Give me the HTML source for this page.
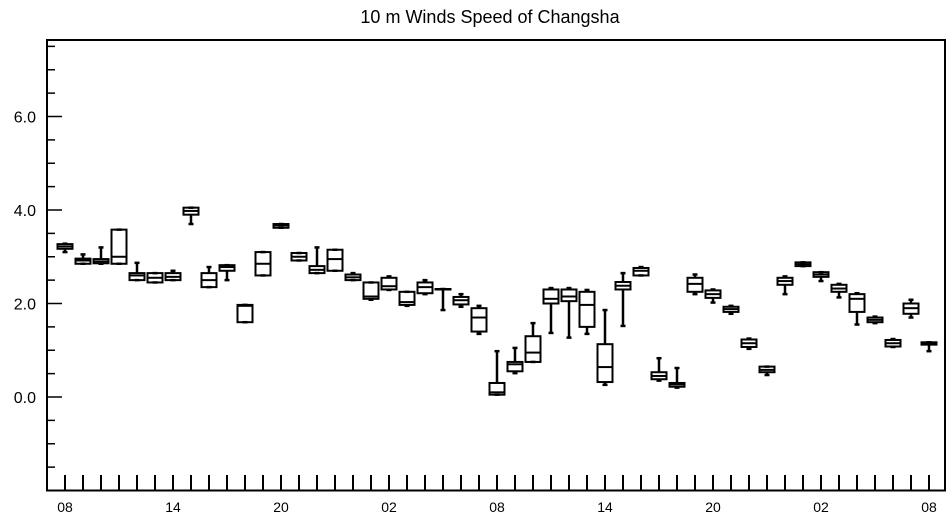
<!DOCTYPE html>
<html><head><meta charset="utf-8"><style>
body{margin:0;background:#fff;}
svg{display:block;font-family:"Liberation Sans",sans-serif;}
</style></head><body>
<svg id="chart" width="952" height="520" viewBox="0 0 952 520">
<text x="490" y="23" text-anchor="middle" font-size="18">10 m Winds Speed of Changsha</text>
<g id="marks"></g>
<rect x="47" y="40" width="898" height="450.5" fill="none" stroke="#000" stroke-width="2"/>
</svg>
<script>
const xLabels=["08","14","20","02","08","14","20","02","08"];
const yTicks=[0,2,4,6];
const yTickLabels=["0.0","2.0","4.0","6.0"];
const lowW=[3.10,2.85,2.85,2.85,2.5,2.45,2.5,3.7,2.35,2.5,1.6,2.6,3.62,2.92,2.65,2.7,2.5,2.08,2.29,1.95,2.2,1.86,1.93,1.35,0.05,0.51,0.75,1.37,1.27,1.35,0.26,1.52,2.6,0.35,0.2,2.2,2.02,1.78,1.03,0.47,2.2,2.8,2.48,2.13,1.55,1.58,1.07,1.7,0.98];
const q1=[3.17,2.85,2.86,2.85,2.5,2.45,2.5,3.9,2.35,2.7,1.6,2.6,3.62,2.92,2.65,2.7,2.5,2.1,2.3,1.97,2.22,2.3,1.98,1.4,0.05,0.55,0.75,2.0,2.05,1.5,0.32,2.3,2.6,0.38,0.22,2.25,2.12,1.82,1.07,0.53,2.4,2.8,2.57,2.25,1.82,1.6,1.08,1.78,1.12];
const med=[3.22,2.92,2.9,3.0,2.6,2.55,2.57,3.98,2.5,2.78,1.95,2.85,3.67,3.0,2.72,2.95,2.56,2.15,2.37,2.03,2.35,2.31,2.07,1.7,0.1,0.7,0.95,2.1,2.15,1.97,0.64,2.38,2.7,0.45,0.27,2.42,2.2,1.88,1.15,0.58,2.48,2.84,2.62,2.32,2.1,1.65,1.15,1.9,1.15];
const q3=[3.27,2.96,2.95,3.58,2.65,2.65,2.65,4.05,2.65,2.82,1.97,3.1,3.7,3.08,2.8,3.15,2.62,2.45,2.55,2.25,2.45,2.31,2.14,1.9,0.3,0.75,1.3,2.3,2.3,2.25,1.13,2.46,2.76,0.53,0.3,2.55,2.28,1.93,1.23,0.65,2.55,2.88,2.67,2.4,2.2,1.7,1.22,2.0,1.17];
const highW=[3.28,3.05,3.2,3.58,2.87,2.65,2.7,4.05,2.78,2.82,1.97,3.1,3.7,3.08,3.2,3.15,2.65,2.45,2.58,2.25,2.5,2.31,2.2,1.95,0.98,1.05,1.58,2.33,2.33,2.29,1.86,2.65,2.78,0.83,0.62,2.62,2.3,1.95,1.25,0.65,2.58,2.88,2.67,2.42,2.22,1.72,1.24,2.08,1.17];
const X0=65,DX=18,Y0=397,KY=46.75;
const xs=i=>X0+DX*i, ys=v=>Y0-KY*v;
const g=document.getElementById('marks');
const NS="http://www.w3.org/2000/svg";
function mk(t,a){const e=document.createElementNS(NS,t);for(const k in a)e.setAttribute(k,a[k]);g.appendChild(e);return e;}
// y ticks
for(let v=-1.5;v<=7.5+1e-9;v+=0.5){
 const major=Math.abs(v/2-Math.round(v/2))<1e-9;
 const e=mk('line',{x1:47,x2:47+(major?15:8),y1:ys(v),y2:ys(v),stroke:'#000','stroke-width':1.5});
 
 
}
yTicks.forEach((v,i)=>{
 const t=mk('text',{x:36,y:ys(v)+6,'text-anchor':'end','font-size':16});
 t.textContent=yTickLabels[i];
 
 
});
// x ticks
for(let i=0;i<q1.length;i++){
 const e=mk('line',{x1:xs(i),x2:xs(i),y1:490,y2:475,stroke:'#000','stroke-width':2});
 
 
}
xLabels.forEach((l,k)=>{
 const t=mk('text',{x:xs(k*6),y:512,'text-anchor':'middle','font-size':14});
 t.textContent=l;
 
 
});
// boxes
for(let i=0;i<q1.length;i++){
 const x=xs(i),w=15;
 const gb=document.createElementNS(NS,'g');g.appendChild(gb);
 
 
 const add=(t,a)=>{const e=document.createElementNS(NS,t);for(const k in a)e.setAttribute(k,a[k]);gb.appendChild(e);return e;};
 add('line',{x1:x,x2:x,y1:ys(highW[i]),y2:ys(q3[i]),stroke:'#000','stroke-width':2.5});
 add('line',{x1:x,x2:x,y1:ys(q1[i]),y2:ys(lowW[i]),stroke:'#000','stroke-width':2.5});
 add('line',{x1:x-2.5,x2:x+2.5,y1:ys(highW[i]),y2:ys(highW[i]),stroke:'#000','stroke-width':2.5});
 add('line',{x1:x-2.5,x2:x+2.5,y1:ys(lowW[i]),y2:ys(lowW[i]),stroke:'#000','stroke-width':2.5});
 add('rect',{x:x-w/2,y:ys(q3[i]),width:w,height:Math.max(ys(q1[i])-ys(q3[i]),0.5),fill:'none',stroke:'#000','stroke-width':2});
 add('line',{x1:x-w/2,x2:x+w/2,y1:ys(med[i]),y2:ys(med[i]),stroke:'#000','stroke-width':2});
}
</script>
</body></html>
